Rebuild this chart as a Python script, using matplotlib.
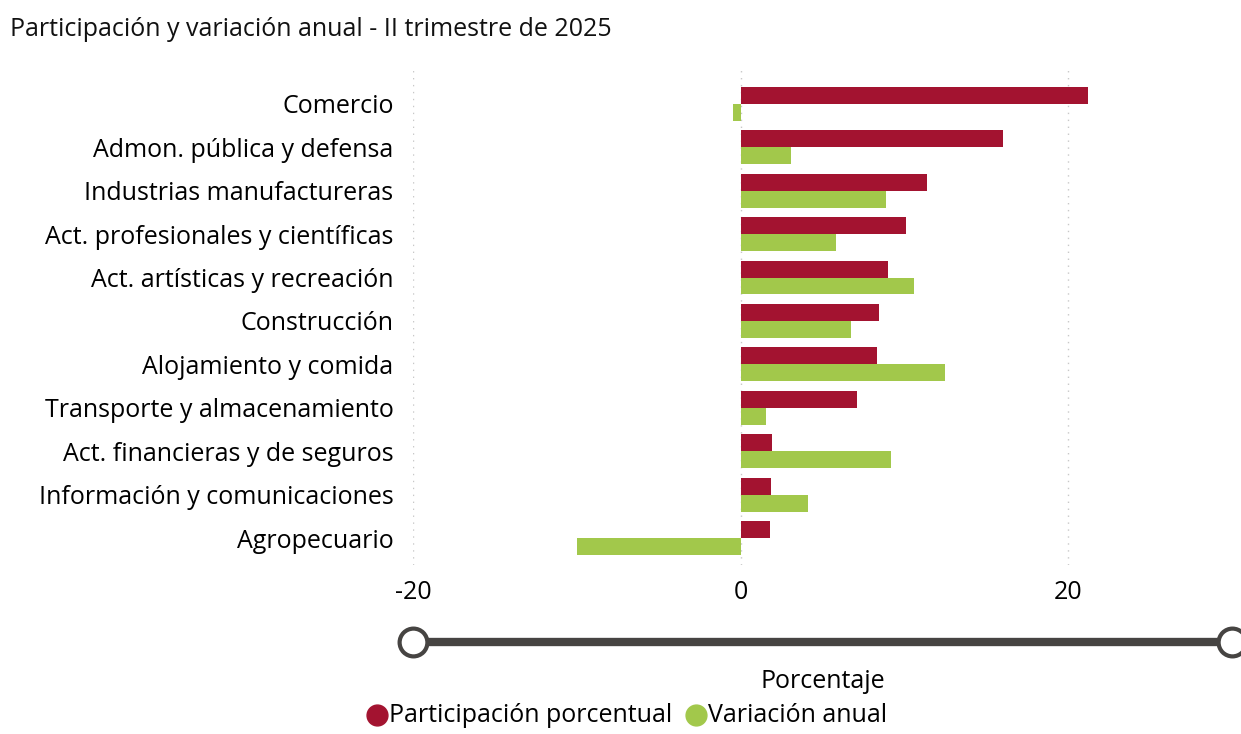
import matplotlib
matplotlib.use('Agg')
import matplotlib.pyplot as plt
from matplotlib.lines import Line2D
import numpy as np

plt.rcParams['font.family'] = ['Open Sans', 'DejaVu Sans']

# Data
categories = [
    'Comercio',
    'Admon. pública y defensa',
    'Industrias manufactureras',
    'Act. profesionales y científicas',
    'Act. artísticas y recreación',
    'Construcción',
    'Alojamiento y comida',
    'Transporte y almacenamiento',
    'Act. financieras y de seguros',
    'Información y comunicaciones',
    'Agropecuario',
]
participacion = [21.2, 16.0, 11.4, 10.1, 9.0, 8.45, 8.3, 7.1, 1.9, 1.85, 1.8]
variacion = [-0.45, 3.1, 8.9, 5.85, 10.6, 6.75, 12.5, 1.55, 9.2, 4.1, -10.0]
xticks = [-20, 0, 20]

RED = '#A31330'
GREEN = '#A2C84B'
SLIDER = '#464442'
FS = 18

W, H = 1241, 734
fig = plt.figure(figsize=(W / 100, H / 100), dpi=100)
ax = fig.add_axes([413 / W, 1 - 565 / H, (1232 - 413) / W, (565 - 70) / H])

y = np.arange(len(categories))
bh = 0.39
ax.barh(y - bh / 2, participacion, height=bh, color=RED, zorder=3)
ax.barh(y + bh / 2, variacion, height=bh, color=GREEN, zorder=3)

ax.set_xlim(-20, 30)
ax.set_ylim(10.62, -0.78)
ax.set_yticks(y)
ax.set_yticklabels(categories, fontsize=FS)
ax.set_xticks(xticks)
ax.set_xticklabels([str(t) for t in xticks], fontsize=FS)
ax.tick_params(axis='y', length=0, pad=14)
ax.tick_params(axis='x', length=0, pad=11)
for t in xticks:
    ax.axvline(t, color='#C8C8C8', linestyle=(0, (1, 4)), linewidth=1, zorder=1)
for s in ax.spines.values():
    s.set_visible(False)

# Title
fig.text(10 / W, 1 - 30 / H, 'Participación y variación anual - II trimestre de 2025',
         fontsize=FS, va='center', ha='left', color='#111111')

# Range slider under the axis
sy = 1 - 642 / H
fig.add_artist(Line2D([413 / W, 1232 / W], [sy, sy], color=SLIDER, linewidth=6,
                      solid_capstyle='butt', transform=fig.transFigure))
for sx in (413, 1232):
    fig.add_artist(Line2D([sx / W], [sy], marker='o', markersize=20, markerfacecolor='white',
                          markeredgecolor=SLIDER, markeredgewidth=3, transform=fig.transFigure))

fig.text(823 / W, 1 - 682 / H, 'Porcentaje', fontsize=FS, ha='center', va='center')

# Legend (kept just inside the bottom edge)
ly = 1 - 715 / H
fig.add_artist(Line2D([377 / W], [ly], marker='o', markersize=15, color=RED, linestyle='none',
                      transform=fig.transFigure))
fig.text(389 / W, ly, 'Participación porcentual', fontsize=FS, va='center', ha='left')
fig.add_artist(Line2D([696 / W], [ly], marker='o', markersize=15, color=GREEN, linestyle='none',
                      transform=fig.transFigure))
fig.text(708 / W, ly, 'Variación anual', fontsize=FS, va='center', ha='left')

fig.savefig('out.png', dpi=100)
